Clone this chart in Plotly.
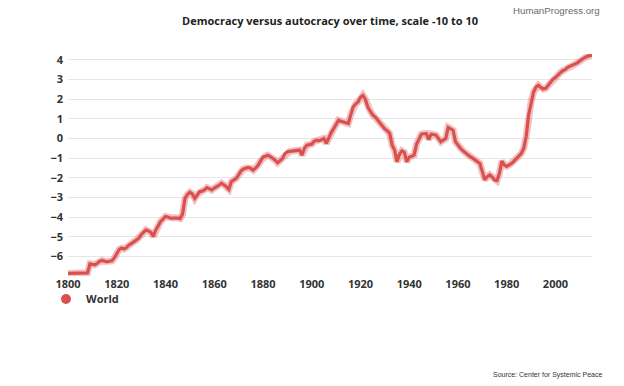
import plotly.graph_objects as go

years = list(range(1800, 2016))
values = [
    # 1800-1809
    -6.87, -6.87, -6.87, -6.87, -6.86, -6.86, -6.85, -6.85, -6.84, -6.38,
    # 1810-1819
    -6.40, -6.43, -6.35, -6.25, -6.21, -6.26, -6.28, -6.25, -6.23, -6.08,
    # 1820-1829
    -5.85, -5.65, -5.58, -5.63, -5.55, -5.42, -5.35, -5.25, -5.18, -5.08,
    # 1830-1839
    -4.90, -4.80, -4.65, -4.70, -4.78, -4.99, -4.65, -4.45, -4.23, -4.10,
    # 1840-1849
    -3.97, -4.00, -4.06, -4.05, -4.03, -4.05, -4.08, -3.85, -3.05, -2.85,
    # 1850-1859
    -2.74, -2.82, -3.05, -2.85, -2.71, -2.68, -2.62, -2.50, -2.55, -2.62,
    # 1860-1869
    -2.52, -2.46, -2.38, -2.28, -2.36, -2.46, -2.59, -2.20, -2.12, -2.03,
    # 1870-1879
    -1.85, -1.65, -1.55, -1.50, -1.47, -1.52, -1.61, -1.50, -1.36, -1.15,
    # 1880-1889
    -0.95, -0.90, -0.85, -0.92, -1.00, -1.10, -1.24, -1.12, -1.02, -0.78,
    # 1890-1899
    -0.68, -0.66, -0.64, -0.63, -0.61, -0.59, -0.85, -0.50, -0.34, -0.32,
    # 1900-1909
    -0.29, -0.15, -0.09, -0.12, -0.05, 0.00, -0.25, 0.05, 0.30, 0.50,
    # 1910-1919
    0.70, 0.93, 0.88, 0.84, 0.80, 0.76, 1.20, 1.60, 1.75, 1.86,
    # 1920-1929
    2.10, 2.20, 2.00, 1.60, 1.40, 1.20, 1.10, 0.95, 0.80, 0.65,
    # 1930-1939
    0.48, 0.40, 0.25, -0.34, -0.59, -1.19, -0.80, -0.63, -0.70, -1.19,
    # 1940-1949
    -0.95, -0.90, -0.85, -0.30, -0.05, 0.22, 0.24, 0.25, -0.05, 0.22,
    # 1950-1959
    0.20, 0.17, 0.00, -0.17, -0.08, 0.00, 0.56, 0.48, 0.42, -0.17,
    # 1960-1969
    -0.35, -0.50, -0.62, -0.73, -0.82, -0.93, -1.00, -1.10, -1.18, -1.27,
    # 1970-1979
    -1.70, -2.10, -1.95, -1.85, -1.95, -2.12, -2.15, -1.78, -1.15, -1.35,
    # 1980-1989
    -1.42, -1.36, -1.27, -1.15, -1.02, -0.90, -0.76, -0.50, 0.10, 1.20,
    # 1990-1999
    1.85, 2.35, 2.62, 2.71, 2.60, 2.52, 2.55, 2.70, 2.85, 3.02,
    # 2000-2009
    3.10, 3.25, 3.35, 3.45, 3.50, 3.62, 3.68, 3.72, 3.78, 3.85,
    # 2010-2015
    3.95, 4.05, 4.12, 4.18, 4.22, 4.25,
]

series_name = "World"
title_text = "Democracy versus autocracy over time, scale -10 to 10"
brand_text = "HumanProgress.org"
source_text = "Source: Center for Systemic Peace"
y_ticks = [-6, -5, -4, -3, -2, -1, 0, 1, 2, 3, 4]
x_ticks = [1800, 1820, 1840, 1860, 1880, 1900, 1920, 1940, 1960, 1980, 2000]

line_color = "#d9514f"
halo_color = "rgba(217,81,79,0.35)"
tick_font = dict(family="Open Sans", size=11, color="#333333", weight="bold")

fig = go.Figure()
# soft halo under the line
fig.add_trace(go.Scatter(x=years, y=values, mode="lines",
                         line=dict(color=halo_color, width=7),
                         showlegend=False, hoverinfo="skip"))
fig.add_trace(go.Scatter(x=years, y=values, mode="lines",
                         line=dict(color=line_color, width=3.2),
                         name=series_name, showlegend=False))
# legend entry with a round marker
fig.add_trace(go.Scatter(x=[None], y=[None], mode="markers",
                         marker=dict(color=line_color, size=10, symbol="circle"),
                         name=series_name, showlegend=True))

fig.update_layout(
    width=624, height=386,
    margin=dict(l=68, r=32, t=54, b=110),
    paper_bgcolor="white", plot_bgcolor="white",
    title=dict(text=title_text, x=0.5, xref="paper", y=1 - 21 / 386,
               yref="container", yanchor="middle", xanchor="center",
               font=dict(family="Open Sans", size=11, color="#222222", weight="bold")),
    showlegend=True,
    legend=dict(orientation="h", x=-0.042, xanchor="left", y=-0.038, yanchor="top",
                font=dict(family="Open Sans", size=11, color="#333333", weight="bold"),
                itemwidth=30, bgcolor="rgba(0,0,0,0)"),
    xaxis=dict(range=[1800, 2015], tickvals=x_ticks, showgrid=False, zeroline=False,
               showline=False, ticks="", tickfont=tick_font, fixedrange=True),
    yaxis=dict(range=[-7, 4.3], tickvals=y_ticks, showgrid=True, gridcolor="#e6e6e6",
               gridwidth=1, zeroline=False, showline=False, ticks="",
               tickfont=tick_font, ticklabelstandoff=4),
    annotations=[
        dict(text=brand_text, xref="paper", yref="paper", x=(602 - 68) / 524,
             y=(276 - 10) / 222, xanchor="right", yanchor="middle", showarrow=False,
             font=dict(family="Liberation Sans", size=9.7, color="#6a6a6a")),
        dict(text=source_text, xref="paper", yref="paper", x=(604 - 68) / 524,
             y=(276 - 375) / 222, xanchor="right", yanchor="middle", showarrow=False,
             font=dict(family="Liberation Sans", size=7, color="#333333")),
    ],
)

fig.write_html("out.html", config={"displayModeBar": False},
               post_script="document.body.style.margin='0';document.body.style.padding='0';")
